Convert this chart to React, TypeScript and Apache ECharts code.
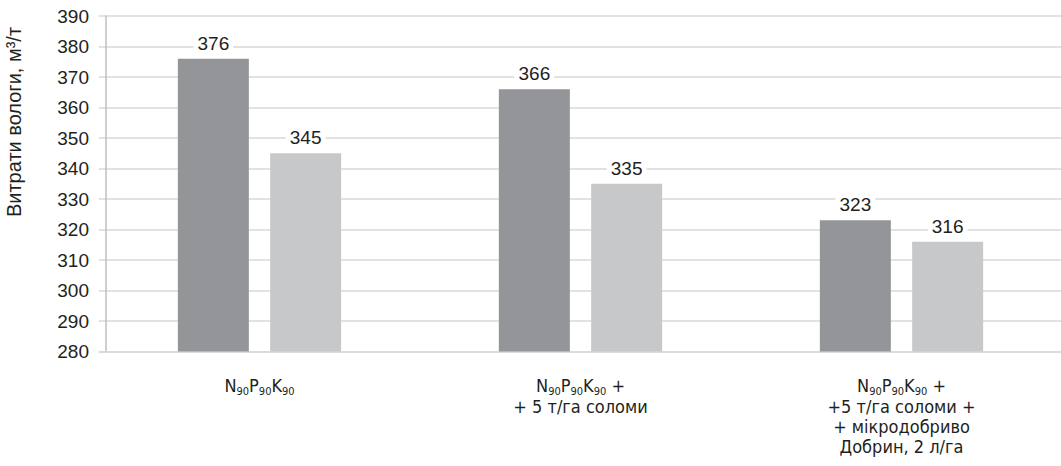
import React, { useEffect, useRef } from "react";
import * as echarts from "echarts";

const categories = [
  "N90P90K90",
  "N90P90K90 +\n+ 5 т/га соломи",
  "N90P90K90 +\n+5 т/га соломи +\n+ мікродобриво\nДобрин, 2 л/га",
];
const seriesDark = [376, 366, 323];
const seriesLight = [345, 335, 316];
const yMin = 280;
const yMax = 390;
const yStep = 10;
const yTitle = "Витрати вологи, м³/т";

const TEXT = "#231f20";
const NARROW = "'Liberation Sans Narrow', 'DejaVu Sans Condensed', 'Liberation Sans', Arial, sans-serif";
const SANS = "'Liberation Sans', Arial, sans-serif";

function formatCategory(v: string): string {
  const lines = v.split("\n");
  return lines
    .map((line, i) => {
      if (i === 0) {
        const parts = line.split(/(N90P90K90)/).filter((p) => p.length > 0);
        return parts
          .map((p) =>
            p === "N90P90K90"
              ? "{a|N}{s|90}{a|P}{s|90}{a|K}{s|90}"
              : "{a|" + p + "}"
          )
          .join("");
      }
      return line;
    })
    .join("\n");
}

export default function App() {
  const ref = useRef<HTMLDivElement>(null);
  useEffect(() => {
    if (!ref.current) return;
    const chart = echarts.init(ref.current, undefined, { renderer: "svg" });
    const labelStyle = {
      show: true,
      position: "top" as const,
      distance: 5,
      fontFamily: SANS,
      fontSize: 19,
      color: TEXT,
      backgroundColor: "#ffffff",
      padding: [1, 4, 1, 4],
    };
    chart.setOption({
      animation: false,
      backgroundColor: "#ffffff",
      grid: { left: 99, right: 8, top: 16, bottom: 114.5, containLabel: false },
      graphic: [
        {
          type: "text",
          x: 14,
          y: 122,
          rotation: Math.PI / 2,
          style: {
            text: yTitle,
            fontFamily: SANS,
            fontSize: 20,
            fill: TEXT,
            align: "center",
            verticalAlign: "middle",
          },
        },
      ],
      xAxis: {
        type: "category",
        data: categories,
        axisLine: { show: true, lineStyle: { color: "#d9d9d9", width: 1.5 } },
        axisTick: { show: false },
        axisLabel: {
          interval: 0,
          margin: 22,
          fontFamily: NARROW,
          fontSize: 18,
          lineHeight: 20,
          color: TEXT,
          align: "center",
          formatter: (v: string) => formatCategory(v),
          rich: {
            a: {
              fontFamily: NARROW,
              fontSize: 18,
              lineHeight: 23,
              color: TEXT,
            },
            s: {
              fontFamily: NARROW,
              fontSize: 11,
              lineHeight: 11,
              color: TEXT,
              verticalAlign: "bottom",
            },
          },
        },
      },
      yAxis: {
        type: "value",
        min: yMin,
        max: yMax,
        interval: yStep,
        offset: -7,
        axisLine: { show: true, lineStyle: { color: "#bfbfbf", width: 1.5 } },
        axisTick: { show: false },
        axisLabel: { margin: 17, fontFamily: SANS, fontSize: 19, color: TEXT },
        splitLine: { show: true, lineStyle: { color: "#d9d9d9", width: 1.5 } },
      },
      series: [
        {
          type: "bar",
          data: seriesDark,
          barWidth: 71,
          barGap: "30%",
          itemStyle: { color: "#939598" },
          label: labelStyle,
        },
        {
          type: "bar",
          data: seriesLight,
          barWidth: 71,
          barGap: "30%",
          itemStyle: { color: "#c7c8ca" },
          label: labelStyle,
        },
      ],
    });
    return () => chart.dispose();
  }, []);
  return (
    <div style={{ position: "absolute", left: 0, top: 0, width: 1061, height: 466, overflow: "hidden", background: "#fff" }}>
      <div ref={ref} style={{ width: 1070, height: 466 }} />
    </div>
  );
}
